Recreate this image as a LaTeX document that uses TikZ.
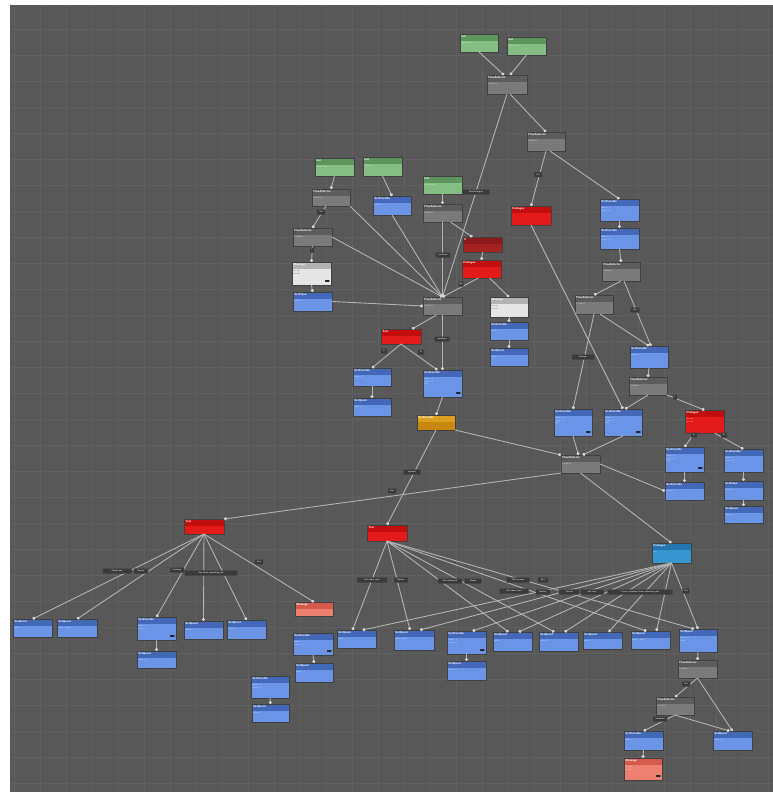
\documentclass[tikz,border=0pt]{standalone}
\usetikzlibrary{arrows.meta}
\definecolor{bg}{HTML}{585858}
\definecolor{gridc}{HTML}{606060}
\definecolor{lineC}{HTML}{B2B2B2}
\definecolor{dotC}{HTML}{D6D6D6}
\definecolor{labC}{HTML}{3A3A3A}
\definecolor{btop}{HTML}{4468B8}
\definecolor{bbody}{HTML}{6A95E6}
\definecolor{gtop}{HTML}{5E955E}
\definecolor{gbody}{HTML}{84BE84}
\definecolor{ytop}{HTML}{5C5C5C}
\definecolor{ybody}{HTML}{7A7A7A}
\definecolor{rtop}{HTML}{C20E0E}
\definecolor{rbody}{HTML}{E21A1A}
\definecolor{drtop}{HTML}{8C1A1A}
\definecolor{drbody}{HTML}{A52222}
\definecolor{otop}{HTML}{DCA020}
\definecolor{obody}{HTML}{C8880C}
\definecolor{ttop}{HTML}{2476AE}
\definecolor{tbody}{HTML}{3596D0}
\definecolor{stop}{HTML}{D45A4C}
\definecolor{sbody}{HTML}{EE8070}
\definecolor{wtop}{HTML}{B2B2B2}
\definecolor{wbody}{HTML}{E6E6E6}
\tikzset{
  gnode/.style 2 args={anchor=north west, inner sep=0pt, outer sep=0pt,
    draw=black!75, line width=0.6pt, fill=#2,
    path picture={\fill[#1] (path picture bounding box.north west) rectangle
      ([yshift=-6.5pt]path picture bounding box.north east);}},
  blu/.style={gnode={btop}{bbody}},
  grn/.style={gnode={gtop}{gbody}},
  gry/.style={gnode={ytop}{ybody}},
  red/.style={gnode={rtop}{rbody}},
  dred/.style={gnode={drtop}{drbody}},
  org/.style={gnode={otop}{obody}},
  teal/.style={gnode={ttop}{tbody}},
  salm/.style={gnode={stop}{sbody}},
  wht/.style={gnode={wtop}{wbody}},
  ttl/.style={anchor=north west, inner sep=0pt, text=white,
    font=\fontsize{3}{3.4}\selectfont\sffamily\bfseries},
  bdy/.style={anchor=north west, inner sep=0pt, text=white, text opacity=0.8,
    font=\fontsize{2}{2.6}\selectfont\sffamily, align=left},
  lbl/.style={fill=labC, draw=black!70, line width=0.3pt, text=white,
    font=\fontsize{2.2}{2.6}\selectfont\sffamily, inner xsep=0.6pt, inner ysep=0.9pt,
    rounded corners=0.6pt, minimum height=5pt},
  conn/.style={draw=lineC, line width=0.9pt, -{Circle[length=3pt,color=dotC]}},
  pill/.style={fill=black!85, rounded corners=0.5pt}
}
\newcommand\Nd[8]{%
  \node[#2, minimum width=#5pt, minimum height=#6pt] (#1) at (#3,#4) {};
  \node[ttl] (#1-t) at ([xshift=1.2pt,yshift=-1.2pt]#1.north west) {#7};
  \node[bdy] (#1-b) at ([xshift=1.2pt,yshift=-8pt]#1.north west) {#8};
}
\newcommand\Lb[5]{\node[lbl, minimum width=#4pt] (#1) at (#2,#3) {#5};}
\newcommand\Pill[1]{\fill[pill] ([xshift=-6pt,yshift=3.2pt]#1.south east) rectangle ([xshift=-1.5pt,yshift=5pt]#1.south east);}
\begin{document}
\begin{tikzpicture}[x=1pt,y=-1pt]
\useasboundingbox (0,0) rectangle (773,796);
\fill[white] (0,0) rectangle (773,796);
\fill[bg] (10,5) rectangle (773,792);
\foreach \x in {14,40,...,772} \draw[gridc, line width=0.5pt] (\x,5) -- (\x,792);
\foreach \y in {29,55,...,791} \draw[gridc, line width=0.5pt] (10,\y) -- (773,\y);

% ---------- nodes ----------
\Nd{G1}{grn}{460}{34}{38}{18}{Get}{Value: bool}
\Nd{G2}{grn}{507}{37}{39}{18}{Get}{Value: bool}
\Nd{N1}{gry}{487}{75}{40}{19}{FlowSelector}{Condition}
\Nd{N2}{gry}{527}{132}{38}{19}{FlowSelector}{Condition}
\Nd{R1}{red}{511}{206}{40}{19}{Dialogue}{}
\Nd{B1}{blu}{600}{199}{39}{22}{SetVariable}{value = 1\\count = 0}
\Nd{B2}{blu}{600}{228}{39}{21}{SetVariable}{value = 1\\count = 0}
\Nd{N3}{gry}{602}{262}{38}{19}{FlowSelector}{Condition}
\Nd{N4}{gry}{575}{295}{38}{19}{FlowSelector}{Condition}
\Nd{B3}{blu}{630}{346}{38}{22}{SetVariable}{value = 1}
\Nd{N5}{gry}{629}{377}{38}{18}{FlowSelector}{Condition}
\Nd{R2}{red}{685}{410}{39}{23}{Dialogue}{line one\\line two}
\Nd{B4}{blu}{665}{447}{39}{25}{SetVariable}{value = 1\\count = 2\\flag}
\Nd{B5}{blu}{665}{482}{39}{18}{SetVariable}{value = 1}
\Nd{B6}{blu}{724}{449}{39}{23}{SetVariable}{value = 1\\count = 0}
\Nd{B7}{blu}{724}{481}{39}{19}{SetValue}{value = 1}
\Nd{B8}{blu}{724}{506}{39}{17}{SetQuest}{value = 1}
\Nd{B9}{blu}{554}{409}{38}{27}{SetVariable}{value = 1\\count = 2\\flag}
\Nd{B10}{blu}{604}{409}{38}{27}{SetVariable}{value = 1\\count = 2\\flag}
\Nd{N6}{gry}{561}{455}{39}{18}{FlowSelector}{Condition}
\Nd{G3}{grn}{315}{158}{39}{18}{Get}{Value: bool}
\Nd{G4}{grn}{363}{157}{39}{19}{Get}{Value: int}
\Nd{N7}{gry}{312}{189}{38}{17}{FlowSelector}{Condition}
\Nd{B11}{blu}{373}{196}{38}{19}{SetVariable}{value = 1}
\Nd{N8}{gry}{293}{228}{39}{18}{FlowSelector}{Condition}
\Nd{W1}{wht}{292}{262}{39}{23}{Message}{{\color{black!70}line one}\\{\color{black!70}line two}}
\Nd{B12}{blu}{293}{292}{39}{19}{SetValue}{value = 1}
\Nd{G5}{grn}{423}{176}{39}{18}{Get}{Value: bool}
\Nd{N9}{gry}{423}{204}{39}{18}{FlowSelector}{Condition}
\Nd{DR1}{dred}{463}{237}{39}{15}{If}{}
\Nd{R3}{red}{462}{260}{39}{18}{Dialogue}{}
\Nd{N10}{gry}{423}{297}{39}{18}{FlowSelector}{Condition}
\Nd{W2}{wht}{490}{297}{38}{20}{Message}{{\color{black!70}line one}\\{\color{black!70}line two}}
\Nd{B13}{blu}{490}{322}{38}{18}{SetVariable}{value = 1}
\Nd{B14}{blu}{490}{348}{38}{18}{SetQuest}{value = 1}
\Nd{R4}{red}{381}{329}{40}{15}{Text}{}
\Nd{B15}{blu}{353}{368}{38}{18}{SetVariable}{value = 1}
\Nd{B16}{blu}{353}{398}{38}{18}{SetQuest}{value = 1}
\Nd{B17}{blu}{423}{370}{39}{27}{SetVariable}{value = 1\\count = 2\\flag}
\Nd{O1}{org}{417}{415}{38}{15}{SetVariable}{}
\Nd{R5}{red}{184}{519}{40}{15}{Text}{}
\Nd{B18}{blu}{13}{619}{39}{18}{SetQuest}{value}
\Nd{B19}{blu}{57}{619}{40}{18}{SetQuest}{value = done}
\Nd{B20}{blu}{137}{617}{39}{23}{SetVariable}{value = 1\\count = 2}
\Nd{B21}{blu}{137}{651}{39}{17}{SetQuest}{value = 1}
\Nd{B22}{blu}{184}{621}{39}{18}{SetQuest}{value = 1}
\Nd{B23}{blu}{227}{620}{39}{19}{SetQuest}{value = 1}
\Nd{S1}{salm}{295}{602}{38}{14}{Message}{}
\Nd{B24}{blu}{293}{633}{40}{22}{SetVariable}{value = 1\\count = 2}
\Nd{B25}{blu}{295}{663}{38}{19}{SetQuest}{value = 1}
\Nd{B26}{blu}{251}{676}{38}{22}{SetVariable}{value = 1\\count = 2}
\Nd{B27}{blu}{252}{704}{37}{18}{SetQuest}{value = 1}
\Nd{R6}{red}{367}{525}{40}{16}{Text}{}
\Nd{B28}{blu}{337}{630}{39}{18}{SetQuest}{value}
\Nd{B29}{blu}{394}{630}{40}{20}{SetQuest}{value = done}
\Nd{B30}{blu}{447}{631}{39}{23}{SetVariable}{value = 1\\count = 2}
\Nd{B31}{blu}{447}{661}{39}{19}{SetQuest}{value = 1}
\Nd{B32}{blu}{493}{632}{39}{19}{SetQuest}{value}
\Nd{B33}{blu}{539}{632}{39}{19}{SetQuest}{value = 1}
\Nd{B34}{blu}{583}{632}{39}{17}{SetQuest}{value = 1}
\Nd{B35}{blu}{631}{631}{39}{18}{SetQuest}{value = done}
\Nd{B36}{blu}{679}{629}{38}{23}{SetQuest}{value = 1\\count}
\Nd{T1}{teal}{652}{543}{39}{20}{Dialogue}{line}
\Nd{N11}{gry}{678}{660}{39}{18}{FlowSelector}{Condition}
\Nd{N12}{gry}{656}{697}{38}{18}{FlowSelector}{Condition}
\Nd{B37}{blu}{624}{731}{39}{19}{SetVariable}{value = 1}
\Nd{B38}{blu}{713}{731}{39}{19}{SetQuest}{value = 1}
\Nd{S2}{salm}{624}{758}{38}{22}{Message}{line one\\line two}
\foreach \n in {B4,B9,B10,B17,B20,B24,B30,S2,W1} {\Pill{\n}}

% ---------- connectors ----------
\draw[conn] (G1.south) -- ([xshift=-3pt]N1.north);
\draw[conn] (G2.south) -- ([xshift=3pt]N1.north);
\draw[conn] ([xshift=3pt]N1.south) -- (N2.north);
\draw[conn] (N1.south) -- (N10.north);
\draw[conn] (N2.south) -- (R1.north);
\draw[conn] ([xshift=4pt]N2.south) -- (B1.north);
\draw[conn] (B1.south) -- (B2.north);
\draw[conn] (B2.south) -- (N3.north);
\draw[conn] (N3.south) -- (N4.north);
\draw[conn] ([xshift=3pt]N3.south) -- ([xshift=2pt]B3.north);
\draw[conn] ([xshift=6pt]N4.south) -- (B3.north);
\draw[conn] (N4.south) -- (B9.north);
\draw[conn] (R1.south) -- (B10.north);
\draw[conn] (B3.south) -- (N5.north);
\draw[conn] (N5.south) -- ([xshift=2pt]B10.north);
\draw[conn] (N5.south east) -- (R2.north);
\draw[conn] ([xshift=-10pt]R2.south) -- (B4.north);
\draw[conn] ([xshift=10pt]R2.south) -- (B6.north);
\draw[conn] (B4.south) -- (B5.north);
\draw[conn] (B6.south) -- (B7.north);
\draw[conn] (B7.south) -- (B8.north);
\draw[conn] (B9.south) -- ([xshift=-2pt]N6.north);
\draw[conn] (B10.south) -- ([xshift=2pt]N6.north);
\draw[conn] (N6.east) -- (B5.west);
\draw[conn] (N6.south) -- (T1.north);
\draw[conn] (N6.south west) -- (R5.north east);
\draw[conn] (O1.south east) -- (N6.north west);
\draw[conn] (G3.south) -- (N7.north);
\draw[conn] (G4.south) -- (B11.north);
\draw[conn] ([xshift=-5pt]N7.south) -- (N8.north);
\draw[conn] (N7.south east) -- (N10.north);
\draw[conn] (N8.south) -- (W1.north);
\draw[conn] (N8.east) -- (N10.north);
\draw[conn] (W1.south) -- (B12.north);
\draw[conn] (B12.east) -- (N10.west);
\draw[conn] (B11.south) -- (N10.north);
\draw[conn] (G5.south) -- (N9.north);
\draw[conn] (N9.south) -- (N10.north);
\draw[conn] ([xshift=8pt]N9.south) -- ([xshift=-10pt]DR1.north);
\draw[conn] (DR1.south) -- (R3.north);
\draw[conn] ([xshift=-3pt]R3.south) -- (N10.north);
\draw[conn] ([xshift=8pt]R3.south) -- (W2.north);
\draw[conn] (W2.south) -- (B13.north);
\draw[conn] (B13.south) -- (B14.north);
\draw[conn] ([xshift=-6pt]N10.south) -- ([xshift=11pt]R4.north);
\draw[conn] (N10.south) -- (B17.north);
\draw[conn] (R4.south) -- (B15.north);
\draw[conn] (R4.south) -- ([xshift=-5pt]B17.north);
\draw[conn] (B15.south) -- (B16.north);
\draw[conn] (B17.south) -- (O1.north);
\draw[conn] (O1.south) -- (R6.north);
\foreach \t in {B18,B19,B20,B22,B23,S1} \draw[conn] (R5.south) -- (\t.north);
\draw[conn] (B20.south) -- (B21.north);
\draw[conn] (B24.south) -- (B25.north);
\draw[conn] (B26.south) -- (B27.north);
\foreach \t in {B28,B29,B32,B33,B35,B36} \draw[conn] (R6.south) -- ([xshift=-4pt]\t.north);
\foreach \t in {B28,B29,B30,B32,B33,B34,B35} \draw[conn] (T1.south) -- ([xshift=6pt]\t.north);
\draw[conn] (T1.south) -- (B36.north);
\draw[conn] (B30.south) -- (B31.north);
\draw[conn] (B36.south) -- (N11.north);
\draw[conn] (N11.south) -- (N12.north);
\draw[conn] (N11.south) -- (B38.north);
\draw[conn] (N12.south) -- (B37.north);
\draw[conn] (N12.south) -- ([xshift=-3pt]B38.north);
\draw[conn] (B37.south) -- (S2.north);

% ---------- labels ----------
\Lb{l1}{538}{174.5}{8}{5/5}
\Lb{l2}{476}{192}{27}{ShowDialogue}
\Lb{l3}{321}{212}{8}{Yes}
\Lb{l4}{312}{250}{4}{1}
\Lb{l5}{443}{255}{15}{condition}
\Lb{l6}{461}{284}{5}{No}
\Lb{l7}{442}{339}{15}{condition}
\Lb{l8}{384}{351}{6}{A}
\Lb{l9}{421}{352}{6}{B}
\Lb{l10}{635}{310}{9}{Yes}
\Lb{l11}{583}{357}{22}{HasItem}
\Lb{l12}{675}{397}{4}{1}
\Lb{l13}{694}{435}{6}{A}
\Lb{l14}{724}{435}{6}{B}
\Lb{l15}{412}{472}{17}{optional}
\Lb{l16}{392}{491}{8}{else}
\Lb{la}{117}{571}{29}{Option one}
\Lb{lb}{141}{571}{14}{Return}
\Lb{lc}{177}{570}{14}{Continue}
\Lb{ld}{211}{573}{53}{Ask about something else}
\Lb{le}{259}{562}{8}{Bye}
\Lb{m1}{372}{580}{30}{Ask about work}
\Lb{m2}{401}{580}{14}{Return}
\Lb{m3}{450}{581}{24}{Not interested}
\Lb{m4}{473}{581}{17}{Maybe}
\Lb{m5}{518}{580}{23}{Tell me more}
\Lb{m6}{543}{580}{10}{Bye}
\Lb{n1}{514}{591}{29}{Ask about work}
\Lb{n2}{543}{592}{14}{Return}
\Lb{n3}{569}{592}{20}{Tell me}
\Lb{n4}{592}{592}{23}{Not now}
\Lb{n5}{640}{592}{65}{I have a question about something else}
\Lb{n6}{686}{591}{7}{Yes}
\Lb{p1}{686}{684}{8}{Yes}
\Lb{p2}{660}{719}{14}{condition}
\end{tikzpicture}
\end{document}
